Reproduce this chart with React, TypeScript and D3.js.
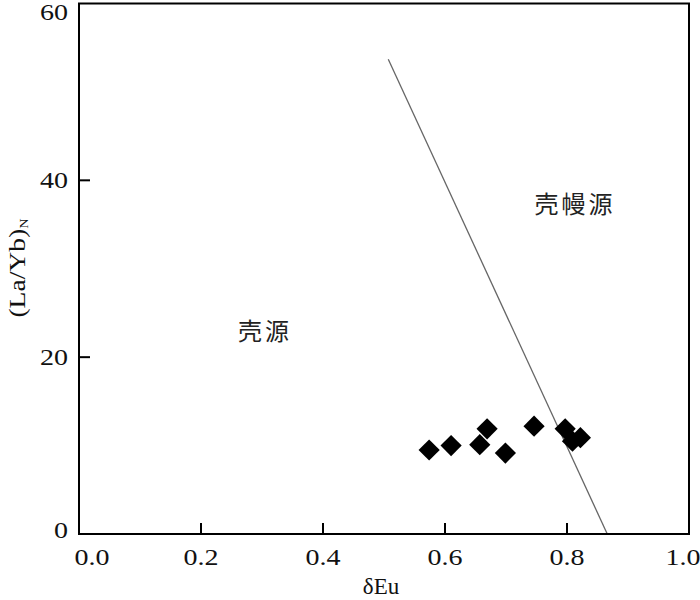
import React from "react";
import * as d3 from "d3";

const xTicks = [0, 0.2, 0.4, 0.6, 0.8, 1.0];
const xTickLabels = ["0.0", "0.2", "0.4", "0.6", "0.8", "1.0"];
const yTicks = [0, 20, 40, 60];
const yTickLabels = ["0", "20", "40", "60"];

const sampleEu = [0.574, 0.61, 0.657, 0.669, 0.699, 0.746, 0.797, 0.809, 0.822];
const sampleLaYb = [9.5, 10.0, 10.1, 11.9, 9.15, 12.2, 11.9, 10.5, 10.9];

const boundaryEu = [0.507, 0.866];
const boundaryLaYb = [53.7, 0];

const regionLabels = ["壳源", "壳幔源"];
const regionEu = [0.305, 0.813];
const regionLaYb = [22.9, 37.3];

export default function App() {
  const W = 700, H = 600;
  const x = d3.scaleLinear().domain([0, 1]).range([79, 689]);
  const y = d3.scaleLinear().domain([0, 60]).range([534, 3.5]);
  const serif = "Liberation Serif, Times New Roman, serif";
  const cjk = "Noto Sans CJK SC, sans-serif";
  const line = d3.line<number>().x((_, i) => x(boundaryEu[i])).y((d) => y(d));
  const diamond = d3.symbol().type(d3.symbolSquare).size(225)();
  const labelDx = (i: number) => (i === 0 ? 13 : i === xTicks.length - 1 ? -6 : 0);
  const yLabelDy = (i: number) => (i === 0 ? -4 : i === yTicks.length - 1 ? 9 : 0);

  return (
    <svg width={W} height={H} style={{ position: "absolute", left: 0, top: 0, background: "#fff" }}>
      <rect x={0} y={0} width={W} height={H} fill="#fff" />
      {/* boundary line */}
      <path d={line(boundaryLaYb) || ""} fill="none" stroke="#666" strokeWidth={1.3} />
      {/* points */}
      {sampleEu.map((e, i) => (
        <path key={i} d={diamond || ""} transform={`translate(${x(e)},${y(sampleLaYb[i])}) rotate(45)`} fill="#000" />
      ))}
      {/* frame */}
      <rect x={x(0)} y={y(60)} width={x(1) - x(0)} height={y(0) - y(60)} fill="none" stroke="#000" strokeWidth={2} />
      {/* x ticks */}
      {xTicks.map((t, i) => (
        <g key={"xt" + i}>
          {i > 0 && i < xTicks.length - 1 && (
            <line x1={x(t)} x2={x(t)} y1={y(0)} y2={y(0) - 11} stroke="#000" strokeWidth={2} />
          )}
          <text transform={`translate(${x(t) + labelDx(i)},565) scale(1.22,1)`} textAnchor="middle" fontFamily={serif} fontSize={23} fill="#111">
            {xTickLabels[i]}
          </text>
        </g>
      ))}
      {/* y ticks */}
      {yTicks.map((t, i) => (
        <g key={"yt" + i}>
          {i > 0 && i < yTicks.length - 1 && (
            <line x1={x(0)} x2={x(0) + 11} y1={y(t)} y2={y(t)} stroke="#000" strokeWidth={2} />
          )}
          <text transform={`translate(68,${y(t) + yLabelDy(i) + 7.5}) scale(1.22,1)`} textAnchor="end" fontFamily={serif} fontSize={23} fill="#111">
            {yTickLabels[i]}
          </text>
        </g>
      ))}
      {/* axis titles */}
      <text x={381} y={594} textAnchor="middle" fontFamily={serif} fontSize={23} fill="#111">δEu</text>
      <text transform="translate(25,268) rotate(-90) scale(1.2,1)" textAnchor="middle" fontFamily={serif} fontSize={23} fill="#111">
        (La/Yb)<tspan fontSize={12} dy={3}>N</tspan>
      </text>
      {/* region labels */}
      {regionLabels.map((r, i) => (
        <text key={r} x={x(regionEu[i])} y={y(regionLaYb[i])} dy="0.35em" textAnchor="middle" fontFamily={cjk} fontSize={24} letterSpacing={3} fill="#222">
          {r}
        </text>
      ))}
    </svg>
  );
}
